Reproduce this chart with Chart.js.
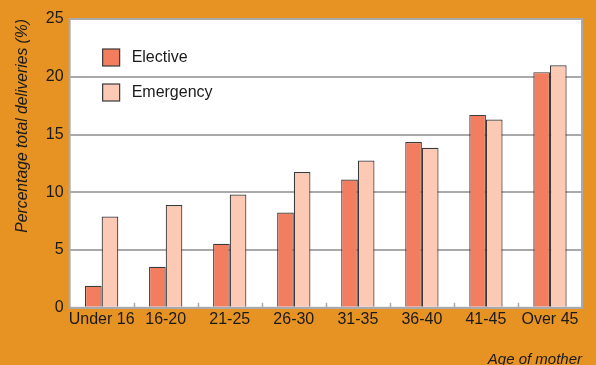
<!DOCTYPE html>
<html>
<head>
<meta charset="utf-8">
<script src="https://cdn.jsdelivr.net/npm/chart.js@4/dist/chart.umd.min.js"></script>
<style>
  html, body { margin: 0; padding: 0; background: #E69324; }
  #wrap { width: 596px; height: 365px; }
</style>
</head>
<body>
<div id="wrap"><canvas id="c" width="596" height="365"></canvas></div>
<script>
// Age bands of the mother
const categories = ['Under 16', '16-20', '21-25', '26-30', '31-35', '36-40', '41-45', 'Over 45'];
// Caesarean deliveries as a percentage of all deliveries
const elective  = [1.9, 3.55, 5.55, 8.25, 11.1, 14.35, 16.7, 20.4];
const emergency = [7.9, 8.9, 9.8, 11.75, 12.75, 13.85, 16.3, 21.0];
const yTicks = [0, 5, 10, 15, 20, 25];

const ORANGE = '#E69324';
const FONT = '"Liberation Sans Narrow", "Arial Narrow", "Liberation Sans", sans-serif';

// Orange page, white plotting panel with a grey frame
const panelPlugin = {
  id: 'panel',
  beforeDraw(chart) {
    const { ctx, chartArea: a } = chart;
    ctx.save();
    ctx.fillStyle = ORANGE;
    ctx.fillRect(0, 0, chart.width, chart.height);
    ctx.fillStyle = '#ffffff';
    ctx.fillRect(a.left, a.top, a.right - a.left, a.bottom - a.top);
    ctx.restore();
  },
  afterDraw(chart) {
    const { ctx, chartArea: a } = chart;
    ctx.save();
    ctx.strokeStyle = '#a9a9ab';
    ctx.lineWidth = 2;
    ctx.strokeRect(a.left, a.top, a.right - a.left, a.bottom - a.top);
    ctx.restore();
  }
};

// Short separator ticks between age bands, rising from the baseline
const separatorPlugin = {
  id: 'separators',
  afterDatasetsDraw(chart) {
    const { ctx, chartArea: a, scales: { x } } = chart;
    ctx.save();
    ctx.strokeStyle = '#a9a9ab';
    ctx.lineWidth = 1.5;
    for (let i = 0; i < categories.length - 1; i++) {
      const px = Math.round((x.getPixelForValue(i) + x.getPixelForValue(i + 1)) / 2) + 0.5;
      ctx.beginPath();
      ctx.moveTo(px, a.bottom);
      ctx.lineTo(px, a.bottom - 5);
      ctx.stroke();
    }
    ctx.restore();
  }
};

// Legend stacked vertically in the upper-left corner of the panel
const legendPlugin = {
  id: 'innerLegend',
  afterDraw(chart) {
    const { ctx, chartArea: a } = chart;
    ctx.save();
    ctx.font = '16px ' + FONT;
    ctx.textBaseline = 'middle';
    chart.data.datasets.forEach((ds, i) => {
      const bx = a.left + 33, by = a.top + 30 + i * 35;
      ctx.fillStyle = ds.backgroundColor;
      ctx.fillRect(bx, by, 17, 17);
      ctx.strokeStyle = '#3a3a3a';
      ctx.lineWidth = 1.2;
      ctx.strokeRect(bx, by, 17, 17);
      ctx.fillStyle = '#1a1a1a';
      ctx.fillText(ds.label, bx + 29, by + 8.5);
    });
    ctx.restore();
  }
};

new Chart(document.getElementById('c'), {
  type: 'bar',
  data: {
    labels: categories,
    datasets: [
      { label: 'Elective', data: elective, backgroundColor: '#F37D5F',
        borderColor: '#3a3a3a', borderWidth: 1.2 },
      { label: 'Emergency', data: emergency, backgroundColor: '#FBC9B4',
        borderColor: '#3a3a3a', borderWidth: 1.2 }
    ]
  },
  options: {
    responsive: false,
    animation: false,
    devicePixelRatio: 1,
    layout: { padding: { top: 19, right: 14, bottom: -4, left: 13 } },
    datasets: { bar: { categoryPercentage: 0.52, barPercentage: 1.0 } },
    plugins: {
      legend: { display: false },
      tooltip: { enabled: false }
    },
    scales: {
      x: {
        grid: { display: false, drawTicks: false },
        border: { display: false },
        ticks: { color: '#1a1a1a', font: { family: FONT, size: 16 }, padding: 2, maxRotation: 0, autoSkip: false },
        title: { display: true, text: 'Age of mother', align: 'end', color: '#1a1a1a',
                 font: { family: FONT, size: 15, style: 'italic' }, padding: { top: 20, bottom: 0 } }
      },
      y: {
        min: 0, max: 25,
        afterBuildTicks(scale) { scale.ticks = yTicks.map(v => ({ value: v })); },
        grid: { color: '#a9a9ab', lineWidth: 2, drawTicks: false },
        border: { display: false },
        ticks: { color: '#1a1a1a', font: { family: FONT, size: 16 }, padding: 6 },
        title: { display: true, text: 'Percentage total deliveries (%)', align: 'end', color: '#1a1a1a',
                 font: { family: FONT, size: 15.7, style: 'italic' }, padding: { top: 0, bottom: 8 } }
      }
    }
  },
  plugins: [panelPlugin, separatorPlugin, legendPlugin]
});
</script>
</body>
</html>
